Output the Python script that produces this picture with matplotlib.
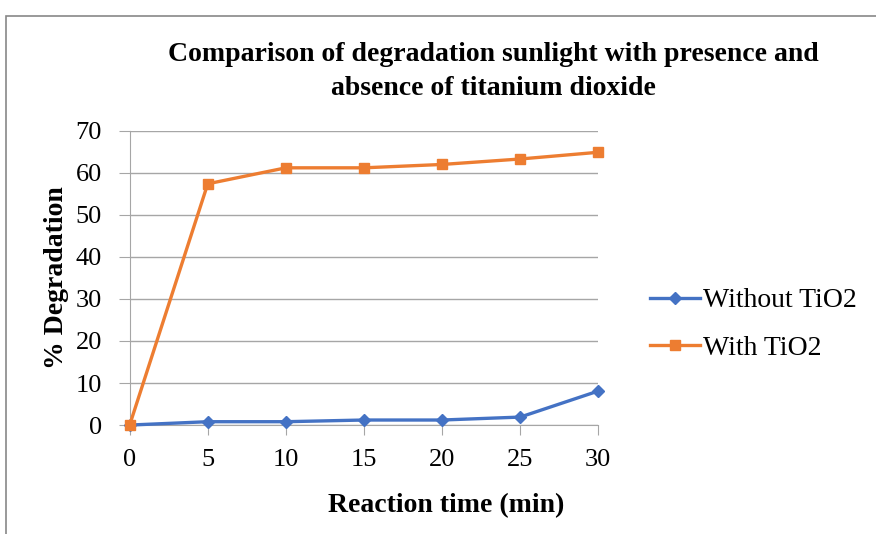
import matplotlib
matplotlib.use("Agg")
import matplotlib.pyplot as plt
from matplotlib.patches import Rectangle

time_min = [0, 5, 10, 15, 20, 25, 30]
without_tio2 = [0, 0.8, 0.8, 1.2, 1.2, 1.9, 8.1]
with_tio2 = [0, 57.4, 61.2, 61.2, 62.0, 63.3, 64.9]
y_ticks = [0, 10, 20, 30, 40, 50, 60, 70]

plt.rcParams["font.family"] = ["Liberation Serif", "DejaVu Serif"]

fig = plt.figure(figsize=(8.76, 5.34), dpi=100)
ax = fig.add_axes([0.148, 0.204, 0.535, 0.551])

# chart border like the spreadsheet frame
fig.patches.append(Rectangle((6 / 876, -0.05), 1.2, 1 - 16 / 534 + 0.05,
                             transform=fig.transFigure, fill=False,
                             edgecolor="#888888", linewidth=1.2))

ax.plot(time_min, without_tio2, color="#4472C4", linewidth=2.4,
        marker="D", markersize=6, label="Without TiO2", clip_on=False, zorder=3)
ax.plot(time_min, with_tio2, color="#ED7D31", linewidth=2.4,
        marker="s", markersize=7.5, label="With TiO2", clip_on=False, zorder=3)

ax.set_xlim(0, 30)
ax.set_ylim(0, 70)
ax.set_xticks(time_min)
ax.set_yticks(y_ticks)
ax.grid(axis="y", color="#A6A6A6", linewidth=1)
ax.set_axisbelow(True)
for s in ["top", "right"]:
    ax.spines[s].set_visible(False)
ax.spines["left"].set_color("#A6A6A6")
ax.spines["bottom"].set_color("#A6A6A6")
ax.tick_params(axis="y", direction="out", length=8, color="#A6A6A6",
               labelsize=19, pad=12)
ax.tick_params(axis="x", direction="out", length=7, color="#A6A6A6",
               labelsize=19, pad=10)

fig.text(0.563, 0.866, "Comparison of degradation sunlight with presence and\n"
         "absence of titanium dioxide", ha="center", va="center",
         fontsize=20, fontweight="bold", linespacing=1.45)
# excel centres the x title on the whole chart, not the plot area
ax.set_xlabel("Reaction time (min)", fontsize=20, fontweight="bold",
              labelpad=16, x=0.675)
ax.set_ylabel("% Degradation", fontsize=20, fontweight="bold", labelpad=5)

ax.legend(loc="center left", bbox_to_anchor=(1.111, 0.342), frameon=False,
          fontsize=20, handlelength=1.8, labelspacing=0.8, handletextpad=0.1,
          borderaxespad=0, borderpad=0)

fig.savefig("out.png", dpi=100)
